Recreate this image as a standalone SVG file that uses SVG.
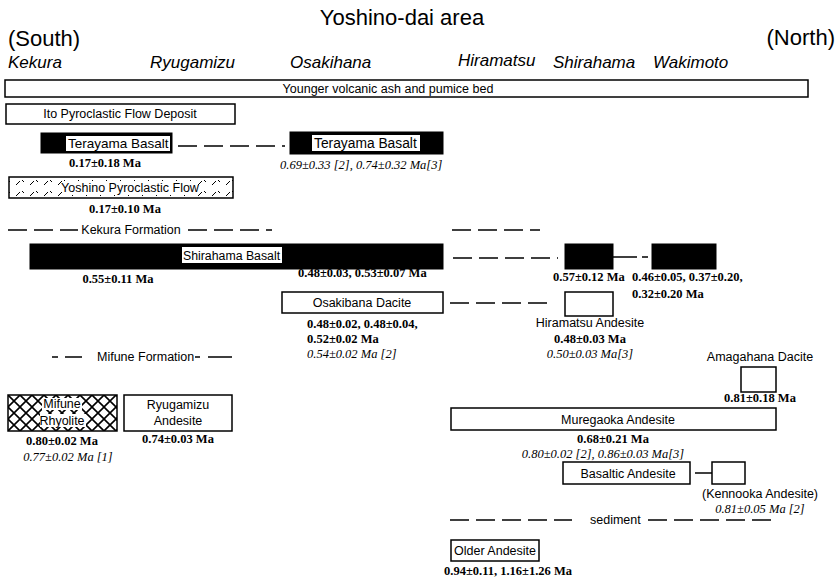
<svg xmlns="http://www.w3.org/2000/svg" width="840" height="579" viewBox="0 0 840 579">
<style>
.bg{fill:#fff}
.box{fill:#fff;stroke:#000;stroke-width:1.5}
.blk{fill:#000;stroke:#000;stroke-width:1}
.lbl{font-family:"Liberation Sans",Arial,sans-serif;font-size:12.5px;fill:#000}
.ttl{font-family:"Liberation Sans",Arial,sans-serif;font-size:22px;fill:#000}
.loc{font-family:"Liberation Sans",Arial,sans-serif;font-size:17px;font-style:italic;fill:#000}
.dt{font-family:"Liberation Serif","Times New Roman",serif;font-size:12.5px;font-weight:bold;fill:#000}
.ref{font-family:"Liberation Serif","Times New Roman",serif;font-size:12.5px;font-style:italic;fill:#000}
.c{text-anchor:middle}
.dash{stroke:#000;stroke-width:1.5;fill:none;stroke-dasharray:19 7}
.ln{stroke:#000;stroke-width:1.5;fill:none}
</style>
<defs>
<pattern id="hatchY" patternUnits="userSpaceOnUse" width="14" height="11">
<path d="M2,9 L6,5 M8,4 L10,6" stroke="#000" stroke-width="1" fill="none"/>
</pattern>
<pattern id="cross" patternUnits="userSpaceOnUse" width="12" height="12" x="8" y="395">
<path d="M0,0 L12,12 M12,0 L0,12" stroke="#000" stroke-width="1.6" fill="none"/>
</pattern>
<clipPath id="clipTL"><rect x="66" y="136" width="104" height="15"/></clipPath>
<clipPath id="clipTR"><rect x="312" y="135" width="108" height="16"/></clipPath>
<clipPath id="clipSB"><rect x="182" y="247" width="100" height="16"/></clipPath>
</defs>
<rect class="bg" x="0" y="0" width="840" height="579"/>

<g id="header">
<text class="ttl c" x="402" y="25">Yoshino-dai area</text>
<text class="ttl" x="8" y="46">(South)</text>
<text class="ttl" x="835" y="45" text-anchor="end">(North)</text>
<text class="loc" x="8" y="68">Kekura</text>
<text class="loc" x="150" y="68">Ryugamizu</text>
<text class="loc" x="290" y="68">Osakihana</text>
<text class="loc" x="458" y="66">Hiramatsu</text>
<text class="loc" x="553" y="68">Shirahama</text>
<text class="loc" x="653" y="68">Wakimoto</text>
</g>

<g id="younger">
<rect class="box" x="5" y="80" width="803" height="17"/>
<text class="lbl c" x="388" y="93">Younger volcanic ash and pumice bed</text>
</g>

<g id="ito">
<rect class="box" x="6" y="104" width="229" height="20"/>
<text class="lbl c" x="120" y="118">Ito Pyroclastic Flow Deposit</text>
</g>

<g id="terayama-kekura">
<rect class="blk" x="41" y="133" width="131" height="20"/>
<rect fill="#fff" x="66" y="136" width="104" height="15"/>
<text class="lbl" x="68" y="148" clip-path="url(#clipTL)" style="font-size:13.5px">Terayama Basalt</text>
<text class="dt c" x="105" y="167">0.17±0.18 Ma</text>
</g>

<g id="terayama-osakihana">
<rect class="blk" x="290" y="132" width="153" height="22"/>
<rect fill="#fff" x="312" y="135" width="108" height="16"/>
<text class="lbl" x="314" y="148" clip-path="url(#clipTR)" style="font-size:13.8px">Terayama Basalt</text>
<text class="ref" x="280" y="169">0.69±0.33 [2], 0.74±0.32 Ma[3]</text>
</g>

<g id="yoshino">
<rect x="9" y="177" width="224" height="21" fill="url(#hatchY)" stroke="#000" stroke-width="1.5"/>
<rect fill="#fff" x="64" y="181" width="134" height="14"/>
<text class="lbl c" x="130" y="192">Yoshino Pyroclastic Flow</text>
<text class="dt c" x="125" y="213">0.17±0.10 Ma</text>
</g>

<g id="kekura-formation">
<text class="lbl c" x="131" y="234">Kekura Formation</text>
</g>

<g id="shirahama-basalt">
<rect class="blk" x="30" y="244" width="413" height="25"/>
<rect fill="#fff" x="182" y="247" width="100" height="16"/>
<text class="lbl" x="183" y="260" clip-path="url(#clipSB)" style="font-size:12.3px">Shirahama Basalt</text>
<text class="dt c" x="118" y="283">0.55±0.11 Ma</text>
<text class="dt" x="298" y="277">0.48±0.03, 0.53±0.07 Ma</text>
</g>

<g id="shirahama-basalt-shirahama">
<rect class="blk" x="565" y="244" width="48" height="25"/>
<text class="dt" x="553" y="281">0.57±0.12 Ma</text>
</g>

<g id="shirahama-basalt-wakimoto">
<rect class="blk" x="652" y="244" width="64" height="25"/>
<text class="dt" x="632" y="281">0.46±0.05, 0.37±0.20,</text>
<text class="dt" x="632" y="298">0.32±0.20 Ma</text>
</g>

<g id="osakibana-dacite">
<rect class="box" x="282" y="292" width="161" height="21"/>
<text class="lbl c" x="362" y="307">Osakibana Dacite</text>
<text class="dt" x="307" y="328">0.48±0.02, 0.48±0.04,</text>
<text class="dt" x="307" y="343">0.52±0.02 Ma</text>
<text class="ref" x="307" y="358">0.54±0.02 Ma [2]</text>
</g>

<g id="hiramatsu-andesite">
<rect class="box" x="565" y="292" width="48" height="24"/>
<text class="lbl c" x="590" y="327">Hiramatsu Andesite</text>
<text class="dt c" x="590" y="343">0.48±0.03 Ma</text>
<text class="ref c" x="590" y="358">0.50±0.03 Ma[3]</text>
</g>

<g id="mifune-formation">
<text class="lbl" x="97" y="361">Mifune Formation</text>
</g>

<g id="amagahana-dacite">
<text class="lbl c" x="760" y="361">Amagahana Dacite</text>
<rect class="box" x="741" y="367" width="35" height="25"/>
<text class="dt c" x="760" y="402">0.81±0.18 Ma</text>
</g>

<g id="mifune-rhyolite">
<rect x="8" y="395" width="109" height="36" fill="url(#cross)" stroke="#000" stroke-width="1.5"/>
<rect fill="#fff" x="42" y="398" width="40" height="12"/>
<rect fill="#fff" x="40" y="414" width="46" height="13"/>
<text class="lbl c" x="62" y="408">Mifune</text>
<text class="lbl c" x="62" y="425">Rhyolite</text>
<text class="dt c" x="62" y="445">0.80±0.02 Ma</text>
<text class="ref c" x="68" y="461">0.77±0.02 Ma [1]</text>
</g>

<g id="ryugamizu-andesite">
<rect class="box" x="124" y="395" width="108" height="36"/>
<text class="lbl c" x="178" y="409">Ryugamizu</text>
<text class="lbl c" x="178" y="425">Andesite</text>
<text class="dt c" x="178" y="443">0.74±0.03 Ma</text>
</g>

<g id="muregaoka-andesite">
<rect class="box" x="451" y="408" width="325" height="22"/>
<text class="lbl c" x="618" y="424">Muregaoka Andesite</text>
<text class="dt c" x="613" y="443">0.68±0.21 Ma</text>
<text class="ref c" x="603" y="458">0.80±0.02 [2], 0.86±0.03 Ma[3]</text>
</g>

<g id="basaltic-andesite">
<rect class="box" x="563" y="462" width="127" height="22"/>
<text class="lbl c" x="628" y="478">Basaltic Andesite</text>
</g>

<g id="kennooka-andesite">
<rect class="box" x="712" y="462" width="33" height="22"/>
<text class="lbl c" x="760" y="498">(Kennooka Andesite)</text>
<text class="ref c" x="760" y="513">0.81±0.05 Ma [2]</text>
</g>

<g id="sediment">
<text class="lbl" x="590" y="524">sediment</text>
</g>

<g id="older-andesite">
<rect class="box" x="451" y="540" width="88" height="21"/>
<text class="lbl c" x="495" y="555">Older Andesite</text>
<text class="dt c" x="508" y="575">0.94±0.11, 1.16±1.26 Ma</text>
</g>

<g id="connectors">
<path class="dash" d="M178,146 H285"/>
<path class="dash" d="M8,230 H78"/>
<path class="dash" d="M188,230 H272"/>
<path class="dash" d="M452,230 H540"/>
<path class="dash" d="M453,258 H558"/>
<path class="ln" d="M613,257 H637 M642,257 H648"/>
<path class="dash" d="M450,303 H552"/>
<path class="ln" d="M52,357 H58 M65,357 H82 M195,357 H200 M208,357 H232"/>
<path class="ln" d="M695,473 H712"/>
<path class="dash" d="M450,520 H572"/>
<path class="dash" d="M648,520 H778"/>
</g>
</svg>
